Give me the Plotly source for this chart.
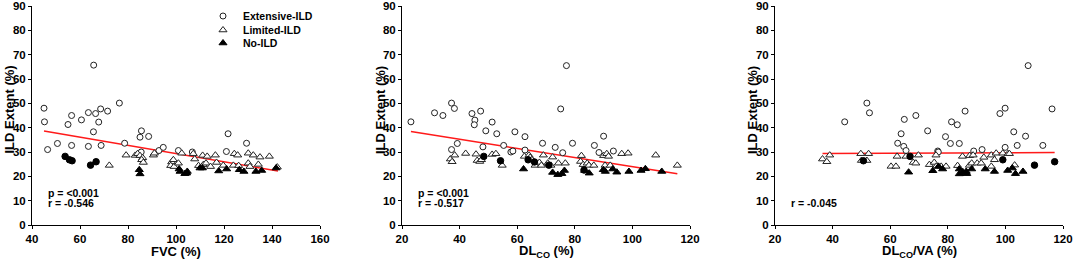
import plotly.graph_objects as go

W, H = 1074, 264

# ---------------- data ----------------
# Panel 1: FVC (%)
fvc_ext_x = [45, 45.2, 46.5, 50.6, 55, 56.5, 56.5, 60.6, 63.5, 63.5, 65.6, 65.7, 66.5, 67.8, 68.6,
             68.8, 71.5, 76.4, 78.6, 85, 85.6, 88.6, 85.5, 92.9, 94.7, 101, 106.8, 121, 121.7, 129.4]
fvc_ext_y = [48, 42.4, 31, 33.5, 41.3, 45, 32.7, 43.2, 46.2, 32.3, 38.3, 65.7, 45.8, 42.3, 47.7,
             32.7, 46.8, 50.1, 33.6, 36.1, 38.7, 36.4, 30, 30.6, 31.9, 30.6, 30, 30.2, 37.5, 33.6]
fvc_lim_x = [79.2, 72.2, 83, 84, 85, 86.1, 85.7, 86.4, 90.6, 91, 98.2, 98.9, 97.8, 99.2, 101,
             102.4, 107.2, 107.8, 109.4, 111.1, 111.4, 113, 112.5, 114.4, 116.4, 116.9, 119.7,
             123.9, 124.3, 125.7, 126.1, 130.1, 130.1, 130.8, 132.2, 135, 134.3, 138.9, 142.2]
fvc_lim_y = [28.7, 24.5, 28.6, 29.3, 28.5, 27.6, 26.8, 25.7, 28.7, 29.5, 25.9, 26.8, 24.4, 24, 25.4,
             29.5, 29.3, 27.1, 24.4, 28.6, 24.8, 28.2, 25.4, 24, 28.7, 25.7, 24.5,
             24.5, 29.3, 28.7, 24.4, 29.5, 25.4, 24, 28.7, 27.9, 24.9, 28.2, 23.8]
fvc_no_x = [84.7, 85, 101.3, 101.7, 103.7, 104.7, 104.4, 110, 111, 117.8, 121.1, 126.4, 128.3,
            133.3, 135.7, 141.7]
fvc_no_y = [22.7, 21, 23, 22, 21.1, 22, 21.3, 23.4, 23.4, 22.2, 23, 22.7, 22, 22, 22.4, 23.4]
fvc_dot_x = [53.8, 55.6, 56.7, 64.4, 66.7]
fvc_dot_y = [28.2, 26.8, 26.4, 24.6, 26]
fvc_fit_x = [45, 142.5]
fvc_fit_y = [38.6, 22.2]

# Panel 2: DLCO (%)
dlco_ext_x = [23.1, 31.3, 34.2, 37.2, 38.2, 37.2, 39.2, 44.3, 45.3, 45.1, 47.3, 49.1, 48.1, 51.3,
              52.9, 55.3, 57.8, 58.5, 59.2, 62.7, 62.7, 68.8, 73.2, 75.1, 75.8, 77.1, 79.2, 86.8,
              88.4, 90, 93.4]
dlco_ext_y = [42.4, 46.1, 45, 50.1, 47.9, 31, 33.5, 45.8, 43.1, 41.2, 46.8, 38.7, 32.1, 42.3,
              37.5, 32.7, 30, 30.4, 38.3, 36.3, 30.8, 33.6, 31.9, 47.7, 29.7, 65.5, 33.6, 32.7,
              29.8, 36.5, 30.4]
dlco_lim_x = [36.8, 37.4, 38.3, 42.1, 45.7, 46.1, 47, 47.6, 51.3, 52.6, 54.8, 62.5, 64.1, 64.5,
              65.1, 66.2, 67.7, 68.4, 69.1, 70.6, 71.7, 72.3, 74.3, 76.7, 82.3, 82, 82.9, 84.3,
              84.9, 86.6, 90, 90.5, 91.1, 91.7, 92.3, 96.3, 98.5, 108.1, 115.6]
dlco_lim_y = [27.1, 26, 28.7, 29.4, 29.1, 26.5, 26.1, 26.8, 29, 29.3, 24.5, 28.2, 28.7, 27.8,
              26.8, 24.5, 25.7, 24.5, 28.7, 25.4, 24.5, 27.9, 25.4, 25.4, 28.5, 26.1, 24.8, 25.4,
              24.5, 24.5, 28.5, 24.5, 29.3, 28.2, 24.5, 29.3, 29.5, 28.7, 24.5]
dlco_no_x = [62.2, 72.3, 74.1, 75.5, 76.4, 83.4, 85, 89.9, 90.6, 93.2, 94.6, 98.8, 103, 104.5, 110.2]
dlco_no_y = [23, 21.6, 20.7, 21.1, 22.4, 22.4, 21.3, 22.7, 22, 23, 21.7, 22, 22.4, 23.1, 22]
dlco_dot_x = [48.4, 54.2, 63.8, 66, 71, 83.2]
dlco_dot_y = [28.2, 26.4, 26.8, 25.9, 24.6, 22.6]
dlco_fit_x = [23.1, 115.6]
dlco_fit_y = [38.4, 21.1]

# Panel 3: DLCO/VA (%)
dlcova_ext_x = [44.2, 51.9, 52.8, 62.6, 63.8, 64.7, 64.9, 65.5, 68.9, 73, 76.5, 76.7, 79.2, 80.9,
                81.3, 83.3, 84, 86, 89, 91.9, 98.1, 99.9, 99.9, 102.9, 104.1, 107, 107.9, 113, 116.2]
dlcova_ext_y = [42.4, 50.1, 46.1, 33.6, 37.5, 32.3, 43.4, 30.6, 45, 38.7, 30.4, 30, 36.3, 33.5,
                42.4, 41.2, 33.5, 46.8, 30.4, 31, 45.8, 48, 31.9, 38.3, 32.7, 36.5, 65.5, 32.7, 47.7]
dlcova_lim_x = [36.5, 38, 39, 49.8, 50, 51.9, 52.5, 60.3, 62, 62.4, 65.5, 68, 68.9, 69.8, 73.6,
                75.3, 75.9, 76, 77.7, 79.4, 83.4, 85.1, 87.5, 87.6, 88.8, 88.3, 90.2, 91.6, 92.5,
                95.1, 95.1, 96.2, 96.8, 99.1, 100.9, 101.4, 103.2]
dlcova_lim_y = [27.1, 26, 28.7, 29.3, 26.5, 26.5, 29.3, 24.1, 24.1, 28.2, 28.2, 25.7, 25.4, 28.7,
                24.8, 25.7, 28.7, 24.1, 24.1, 24.1, 24.4, 28.2, 24.5, 28.5, 28.7, 25.4, 25.4, 25.4,
                27.8, 28.7, 24.1, 26.8, 29.5, 29.5, 29.3, 29.3, 24.6]
dlcova_no_x = [66.4, 74.8, 76.8, 78.2, 84, 84, 85.2, 86.4, 86.6, 88.3, 93, 96.2, 100.8, 102.4,
               103.5, 106.1]
dlcova_no_y = [21.7, 22.3, 24.1, 23, 23, 21, 21.9, 22, 21.1, 23, 23, 22, 22.4, 23.4, 21.1, 22]
dlcova_dot_x = [50.7, 66.9, 99.1, 110.1, 117.1]
dlcova_dot_y = [26.4, 28.2, 26.8, 24.6, 26]
dlcova_fit_x = [36.5, 117.1]
dlcova_fit_y = [29.4, 29.8]

x_titles = ["FVC (%)", "DL<sub>CO</sub> (%)", "DL<sub>CO</sub>/VA (%)"]
y_title = "ILD Extent (%)"
stats_p = ["p = <0.001", "p = <0.001", None]
stats_r = ["r = -0.546", "r = -0.517", "r = -0.045"]
x_ranges = [[40, 160], [20, 120], [20, 120]]
legend_names = ["Extensive-ILD", "Limited-ILD", "No-ILD"]

panels = [
    (fvc_ext_x, fvc_ext_y, fvc_lim_x, fvc_lim_y, fvc_no_x, fvc_no_y, fvc_dot_x, fvc_dot_y, fvc_fit_x, fvc_fit_y),
    (dlco_ext_x, dlco_ext_y, dlco_lim_x, dlco_lim_y, dlco_no_x, dlco_no_y, dlco_dot_x, dlco_dot_y, dlco_fit_x, dlco_fit_y),
    (dlcova_ext_x, dlcova_ext_y, dlcova_lim_x, dlcova_lim_y, dlcova_no_x, dlcova_no_y, dlcova_dot_x, dlcova_dot_y, dlcova_fit_x, dlcova_fit_y),
]

# ---------------- layout geometry (pixels) ----------------
plot_left = [32, 402, 775]
plot_w = 288
plot_top, plot_bottom = 6, 225
ytitle_x = [8.5, 380, 752]
legend_item_y = [16, 30, 43]   # item centres (px from top)
legend_text_x = 243

FONT = "Liberation Sans, Arial, Helvetica, sans-serif"

fig = go.Figure()
layout = dict(
    width=W, height=H,
    margin=dict(l=0, r=0, t=0, b=0),
    paper_bgcolor="white", plot_bgcolor="white",
    font=dict(family=FONT, color="black"),
    showlegend=True,
)
legend_keys = ["legend", "legend2", "legend3"]
for k, key in enumerate(legend_keys):
    layout[key] = dict(x=(legend_text_x - 40) / W, y=1 - legend_item_y[k] / H,
                       xanchor="left", yanchor="middle",
                       bgcolor="rgba(0,0,0,0)", borderwidth=0,
                       font=dict(size=10.5, family=FONT, weight="bold", color="black"),
                       itemwidth=30, tracegroupgap=0)
annotations = []

for i, (ex, ey, lx, ly, nx, ny, dx, dy, fx, fy) in enumerate(panels):
    sfx = "" if i == 0 else str(i + 1)
    xa, ya = "x" + sfx, "y" + sfx
    fig.add_trace(go.Scatter(x=fx, y=fy, mode="lines", line=dict(color="#ff1a1a", width=1.5),
                             xaxis=xa, yaxis=ya, showlegend=False, hoverinfo="skip"))
    fig.add_trace(go.Scatter(x=ex, y=ey, mode="markers", name=legend_names[0], legend="legend",
                             marker=dict(symbol="circle", size=6, color="white",
                                         line=dict(color="#222", width=1)),
                             xaxis=xa, yaxis=ya, showlegend=(i == 0)))
    fig.add_trace(go.Scatter(x=lx, y=ly, mode="markers", name=legend_names[1], legend="legend2",
                             marker=dict(symbol="triangle-up", size=7, color="white",
                                         line=dict(color="#222", width=1)),
                             xaxis=xa, yaxis=ya, showlegend=(i == 0)))
    fig.add_trace(go.Scatter(x=nx, y=ny, mode="markers", name=legend_names[2], legend="legend3",
                             marker=dict(symbol="triangle-up", size=7, color="black",
                                         line=dict(color="black", width=1)),
                             xaxis=xa, yaxis=ya, showlegend=(i == 0)))
    fig.add_trace(go.Scatter(x=dx, y=dy, mode="markers", name="ILD",
                             marker=dict(symbol="circle", size=6.5, color="black",
                                         line=dict(color="black", width=1)),
                             xaxis=xa, yaxis=ya, showlegend=False))

    axcommon = dict(showline=True, linecolor="black", linewidth=1, ticks="outside",
                    ticklen=3, tickwidth=1, tickcolor="black", showgrid=False, zeroline=False,
                    tickfont=dict(size=11.5, family=FONT, weight="bold", color="black"),
                    automargin=False, fixedrange=True)
    layout["xaxis" + sfx] = dict(axcommon, range=x_ranges[i], dtick=20,
                                 domain=[plot_left[i] / W, (plot_left[i] + plot_w) / W],
                                 anchor=ya)
    layout["yaxis" + sfx] = dict(axcommon, range=[0, 90], dtick=10,
                                 domain=[1 - plot_bottom / H, 1 - plot_top / H],
                                 anchor=xa)
    annotations.append(dict(text=x_titles[i], xref="paper", yref="paper",
                            x=(plot_left[i] + plot_w / 2) / W, y=1 - 251 / H,
                            xanchor="center", yanchor="middle", showarrow=False,
                            font=dict(size=13, family=FONT, weight="bold")))
    annotations.append(dict(text=y_title, xref="paper", yref="paper",
                            x=ytitle_x[i] / W, y=1 - 110 / H, textangle=-90,
                            xanchor="center", yanchor="middle", showarrow=False,
                            font=dict(size=13, family=FONT, weight="bold")))
    x0 = x_ranges[i][0] + (14 / plot_w) * (x_ranges[i][1] - x_ranges[i][0])
    if stats_p[i]:
        annotations.append(dict(text=stats_p[i], xref=xa, yref=ya, x=x0, y=13.2,
                                xanchor="left", yanchor="middle", showarrow=False,
                                font=dict(size=10.5, family=FONT, weight="bold")))
    annotations.append(dict(text=stats_r[i], xref=xa, yref=ya, x=x0, y=9.0,
                            xanchor="left", yanchor="middle", showarrow=False,
                            font=dict(size=10.5, family=FONT, weight="bold")))

layout["annotations"] = annotations
fig.update_layout(**layout)
fig.write_html("out.html", config={"displayModeBar": False},
               post_script="document.body.style.margin='0';document.body.style.padding='0';")
